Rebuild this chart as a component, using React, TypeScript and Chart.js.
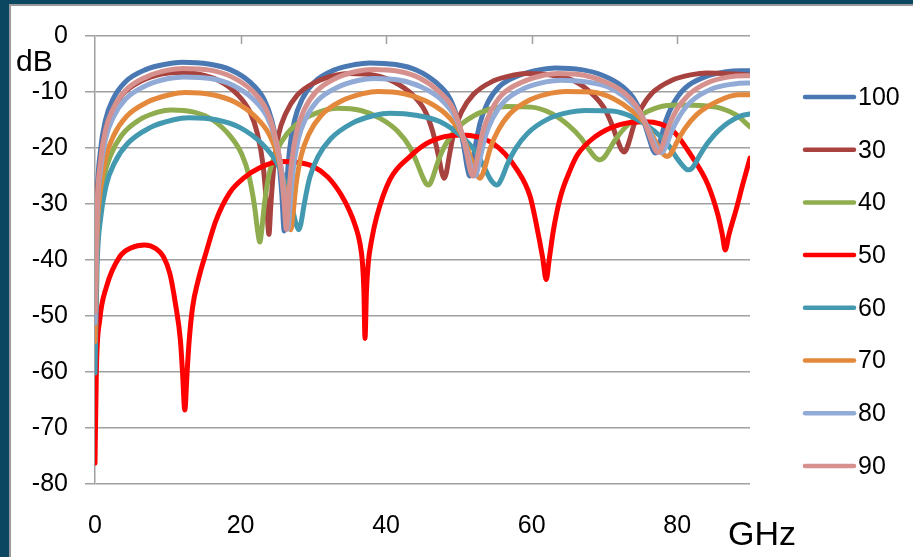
import React, { useEffect, useRef } from 'react';
import { Chart, registerables } from 'chart.js';

Chart.register(...registerables);

const FONT = '"Liberation Sans", Arial, Helvetica, sans-serif';

const seriesNames = ['100', '30', '40', '50', '60', '70', '80', '90'];
const seriesColors = ['#4A78B2', '#A8423F', '#8FAD4E', '#FF0000', '#4299B0', '#E4893B', '#91ABD6', '#D6918F'];
const xTicks = [0, 20, 40, 60, 80];
const yTicks = [0, -10, -20, -30, -40, -50, -60, -70, -80];
const xTitle = 'GHz';
const yTitle = 'dB';

// frequency (GHz) / level (dB) pairs
const f100 = [0, 0.27, 0.72, 1.44, 2.5, 4.16, 6.97, 9.91, 11.96, 15.6, 18.57, 21.27, 23.18, 24.27, 25.13, 25.67, 26.0,
  26.26, 26.7, 27.41, 28.46, 30.08, 32.83, 35.72, 37.73, 41.3, 44.21, 46.86, 48.74, 49.8, 50.65, 51.18, 51.5,
  51.76, 52.2, 52.91, 53.96, 55.58, 58.33, 61.22, 63.23, 66.8, 69.71, 72.36, 74.24, 75.3, 76.15, 76.68, 77.0,
  77.26, 77.7, 78.41, 79.46, 81.08, 83.83, 86.72, 88.73, 90];
const db100 = [-47, -29.3, -20.8, -15.0, -11.2, -8.2, -6.0, -5.0, -4.7, -5.0, -6.0, -8.2, -11.2, -15.0, -20.6, -28.2, -34.8,
  -28.3, -20.7, -15.1, -11.3, -8.3, -6.1, -5.1, -4.8, -5.1, -6.1, -8.3, -11.1, -14.7, -19.5, -23.7, -25.0,
  -23.9, -20.1, -15.5, -11.9, -9.0, -7.0, -6.0, -5.7, -6.0, -7.0, -8.9, -11.6, -14.8, -18.3, -20.4, -20.9,
  -20.5, -18.6, -15.2, -12.1, -9.3, -7.3, -6.4, -6.2, -6.2];

const f30 = [0, 0.25, 0.66, 1.32, 2.3, 3.82, 6.41, 9.11, 10.99, 14.34, 17.07, 19.55, 21.31, 22.31, 23.1, 23.6, 23.9,
  24.15, 24.57, 25.23, 26.22, 27.76, 30.36, 33.08, 34.99, 38.36, 41.11, 43.62, 45.39, 46.39, 47.2, 47.7, 48.0,
  48.25, 48.68, 49.36, 50.38, 51.95, 54.62, 57.41, 59.36, 62.82, 65.64, 68.21, 70.02, 71.05, 71.88, 72.39, 72.7,
  72.95, 73.38, 74.05, 75.06, 76.62, 79.27, 82.03, 83.97, 88.0, 90];
const db30 = [-52, -31.9, -23.4, -17.5, -13.6, -10.4, -8.0, -6.8, -6.5, -6.8, -8.0, -10.4, -13.6, -17.4, -23.1, -30.3, -35.4,
  -30.4, -23.3, -17.6, -13.8, -10.6, -8.2, -7.0, -6.7, -7.0, -8.2, -10.5, -13.5, -17.0, -21.4, -24.6, -25.4,
  -24.6, -21.4, -17.0, -13.5, -10.5, -8.1, -7.0, -6.7, -7.0, -7.9, -10.2, -13.0, -15.9, -18.9, -20.4, -20.7,
  -20.4, -18.9, -15.9, -12.9, -10.1, -7.9, -6.9, -6.6, -6.8, -7.0];

const f40 = [0, 0.23, 0.63, 1.25, 2.18, 3.62, 6.07, 8.63, 10.42, 13.59, 16.18, 18.53, 20.2, 21.14, 21.9, 22.37, 22.65,
  22.89, 23.29, 23.93, 24.88, 26.35, 28.85, 31.47, 33.3, 36.54, 39.19, 41.59, 43.29, 44.26, 45.03, 45.51, 45.8,
  46.04, 46.45, 47.1, 48.07, 49.58, 52.12, 54.79, 56.66, 59.96, 62.66, 65.11, 66.84, 67.83, 68.61, 69.1, 69.4,
  69.65, 70.07, 70.74, 71.73, 73.27, 75.89, 78.62, 80.53, 85.32, 88.09, 90];
const db40 = [-58, -39.7, -31.2, -25.2, -21.2, -17.8, -15.0, -13.6, -13.2, -13.6, -15.0, -17.8, -21.2, -24.9, -30.2, -35.0, -36.8,
  -34.9, -29.9, -24.6, -20.8, -17.5, -14.7, -13.3, -12.9, -13.3, -14.7, -17.0, -19.9, -22.7, -25.2, -26.4, -26.6,
  -26.4, -25.1, -22.5, -19.6, -16.7, -14.2, -12.9, -12.6, -12.7, -13.8, -16.0, -18.3, -20.2, -21.5, -22.0, -22.1,
  -22.0, -21.5, -20.1, -18.1, -15.8, -13.5, -12.4, -12.3, -12.7, -14.1, -16.2];

const f50 = [0, 0.19, 0.65, 1.57, 3.4, 5.0, 6.8, 8.4, 9.4, 10.3, 11.04, 11.74, 12.04, 12.34, 12.64, 12.94, 13.4, 14.2, 15.3, 16.6,
  18.5, 20.5, 22.5, 25.5, 28.0, 30.0, 32.0, 33.8, 35.0, 35.8, 36.4, 36.75, 36.95, 37.1, 37.3, 37.55, 38.0, 38.7, 40.5, 43.3,
  46.0, 50.2, 54.7, 58.0, 59.8, 60.7, 61.5, 62.0, 62.4, 63.0, 64.0, 65.3, 66.3, 68.7, 71.9, 75.6, 79.3, 82.0, 84.2, 85.6,
  86.2, 86.6, 87.1, 88.2, 89.0, 90];
const db50 = [-76.3, -59.6, -50.7, -44.8, -39.4, -37.8, -37.3, -38.0, -39.4, -42.5, -47.7, -54.4, -60.4, -66.8, -60.4, -54.4, -48.5, -43.5, -38.5, -33.0,
  -28.0, -25.3, -23.6, -22.4, -22.6, -23.3, -25.2, -28.3, -31.3, -34.0, -37.0, -40.5, -45.5, -54.0, -45.5, -40.5, -36.5, -32.3, -25.7, -21.5,
  -18.9, -17.7, -19.2, -23.9, -28.7, -34.0, -39.5, -43.5, -40.0, -34.6, -28.5, -23.9, -21.2, -18.0, -15.9, -15.3, -16.8, -21.5, -26.5, -32.0,
  -35.5, -38.2, -35.5, -30.5, -26.5, -21.8];

const f60 = [0, 0.29, 0.77, 1.55, 2.7, 4.48, 7.5, 10.67, 12.88, 16.8, 20.0, 22.91, 24.97, 26.13, 27.07, 27.65, 28.0,
  28.28, 28.75, 29.5, 30.62, 32.35, 35.29, 38.36, 40.51, 44.32, 47.43, 50.25, 52.25, 53.39, 54.29, 54.86, 55.2,
  55.47, 55.93, 56.66, 57.74, 59.42, 62.28, 65.26, 67.34, 71.04, 74.06, 76.8, 78.74, 79.84, 80.72, 81.27, 81.6,
  81.87, 82.33, 83.06, 84.14, 85.82, 88.68, 90];
const db60 = [-60.2, -41.1, -32.6, -26.6, -22.6, -19.2, -16.4, -15.0, -14.6, -15.0, -16.4, -19.2, -22.6, -26.0, -30.5, -33.7, -34.6,
  -33.6, -30.0, -25.3, -21.6, -18.4, -15.6, -14.2, -13.8, -14.2, -15.3, -17.8, -20.6, -23.2, -25.5, -26.4, -26.6,
  -26.4, -25.3, -22.9, -20.2, -17.4, -14.8, -13.6, -13.3, -13.4, -14.6, -16.9, -19.4, -21.6, -23.1, -23.8, -23.9,
  -23.8, -23.1, -21.4, -19.2, -16.7, -14.3, -13.9];

const f70 = [0, 0.28, 0.74, 1.48, 2.59, 4.3, 7.21, 10.25, 12.37, 16.14, 19.21, 22.01, 23.99, 25.11, 26.0, 26.56, 26.9,
  27.17, 27.62, 28.34, 29.4, 31.06, 33.87, 36.81, 38.86, 42.5, 45.47, 48.17, 50.08, 51.17, 52.03, 52.57, 52.9,
  53.16, 53.61, 54.32, 55.37, 57.01, 59.79, 62.69, 64.72, 68.32, 71.26, 73.93, 75.82, 76.89, 77.74, 78.28, 78.6,
  78.86, 79.31, 80.02, 81.07, 82.71, 85.49, 88.39, 90];
const db70 = [-54.6, -36.1, -27.6, -21.7, -17.7, -14.4, -11.8, -10.5, -10.1, -10.5, -11.8, -14.4, -17.7, -21.5, -26.8, -32.3, -34.6,
  -32.2, -26.6, -21.3, -17.5, -14.2, -11.6, -10.3, -9.9, -10.3, -11.6, -13.9, -16.9, -20.0, -23.3, -25.0, -25.4,
  -25.0, -23.3, -20.0, -16.9, -13.9, -11.4, -10.2, -9.9, -10.0, -11.2, -13.5, -16.0, -18.5, -20.5, -21.3, -21.5,
  -21.4, -20.6, -18.8, -16.5, -14.0, -11.7, -10.5, -10.5];

const f80 = [0, 0.27, 0.73, 1.46, 2.55, 4.24, 7.1, 10.1, 12.19, 15.9, 18.93, 21.68, 23.63, 24.73, 25.62, 26.17, 26.5,
  26.76, 27.21, 27.92, 28.97, 30.61, 33.39, 36.29, 38.32, 41.92, 44.86, 47.53, 49.42, 50.49, 51.34, 51.88, 52.2,
  52.46, 52.91, 53.61, 54.67, 56.3, 59.06, 61.95, 63.98, 67.56, 70.49, 73.15, 75.03, 76.09, 76.95, 77.48, 77.8,
  78.06, 78.51, 79.21, 80.27, 81.9, 84.66, 87.55, 89.58, 90];
const db80 = [-51.3, -32.7, -24.2, -18.3, -14.4, -11.2, -8.8, -7.6, -7.3, -7.6, -8.8, -11.2, -14.4, -18.2, -23.8, -30.5, -34.5,
  -30.7, -24.1, -18.5, -14.7, -11.5, -9.1, -7.9, -7.6, -7.9, -9.1, -11.3, -14.3, -17.7, -21.7, -24.4, -25.0,
  -24.4, -21.9, -18.0, -14.6, -11.6, -9.3, -8.2, -7.9, -8.2, -9.1, -11.3, -14.0, -16.7, -19.3, -20.6, -20.8,
  -20.6, -19.5, -17.1, -14.4, -11.7, -9.5, -8.6, -8.4, -8.4];

const f90 = [0, 0.27, 0.73, 1.45, 2.53, 4.21, 7.05, 10.02, 12.1, 15.78, 18.79, 21.52, 23.45, 24.55, 25.42, 25.97, 26.3,
  26.56, 27.01, 27.71, 28.77, 30.4, 33.16, 36.05, 38.08, 41.66, 44.59, 47.25, 49.13, 50.19, 51.05, 51.58, 51.9,
  52.16, 52.6, 53.31, 54.36, 55.98, 58.73, 61.62, 63.63, 67.2, 70.11, 72.76, 74.64, 75.7, 76.55, 77.08, 77.4,
  77.66, 78.1, 78.81, 79.86, 81.48, 84.23, 87.12, 89.13, 90];
const db90 = [-49.2, -31.2, -22.7, -16.8, -12.9, -9.7, -7.3, -6.1, -5.8, -6.1, -7.3, -9.7, -12.9, -16.8, -22.4, -29.5, -34.5,
  -29.7, -22.6, -17.0, -13.1, -9.9, -7.5, -6.3, -6.0, -6.3, -7.5, -9.9, -12.8, -16.4, -20.8, -24.1, -25.0,
  -24.2, -21.3, -17.0, -13.5, -10.4, -8.2, -7.0, -6.7, -7.0, -8.2, -10.2, -13.0, -16.0, -19.0, -20.5, -20.8,
  -20.5, -19.1, -16.2, -13.3, -10.6, -8.3, -7.3, -7.1, -7.1];

const seriesX = [f100, f30, f40, f50, f60, f70, f80, f90];
const seriesY = [db100, db30, db40, db50, db60, db70, db80, db90];

export default function App() {
  const canvasRef = useRef<HTMLCanvasElement | null>(null);

  useEffect(() => {
    const canvas = canvasRef.current;
    if (!canvas) return;

    const datasets = seriesNames.map((name, i) => ({
      label: name,
      data: seriesX[i].map((x, j) => ({ x, y: seriesY[i][j] })),
      borderColor: seriesColors[i],
      backgroundColor: seriesColors[i],
      borderWidth: 5,
      pointRadius: 0,
      pointHoverRadius: 0,
      fill: false,
      cubicInterpolationMode: 'monotone' as const,
      borderCapStyle: 'round' as const,
      borderJoinStyle: 'round' as const,
      order: seriesNames.length - 1 - i,
    }));

    const overlay = {
      id: 'overlay',
      afterDraw(chart: any) {
        const { ctx, chartArea, scales } = chart;
        const xs = scales.x;
        ctx.save();
        // tick marks hanging from the top (0 dB) axis line
        ctx.strokeStyle = '#a0a0a0';
        ctx.lineWidth = 1.5;
        xTicks.forEach((v) => {
          if (v === 0) return;
          const px = Math.round(xs.getPixelForValue(v)) + 0.5;
          ctx.beginPath();
          ctx.moveTo(px, chartArea.top);
          ctx.lineTo(px, chartArea.top + 8);
          ctx.stroke();
        });
        // axis titles
        ctx.fillStyle = '#000';
        ctx.textBaseline = 'alphabetic';
        ctx.textAlign = 'left';
        ctx.font = `30px ${FONT}`;
        ctx.fillText(yTitle, 16, 71);
        ctx.font = `34px ${FONT}`;
        ctx.fillText(xTitle, 728, 545);
        // legend
        ctx.font = `25px ${FONT}`;
        ctx.textBaseline = 'middle';
        seriesNames.forEach((name, i) => {
          const y = 97 + i * 52.7;
          ctx.strokeStyle = seriesColors[i];
          ctx.lineWidth = 4.5;
          ctx.lineCap = 'round';
          ctx.beginPath();
          ctx.moveTo(805, y);
          ctx.lineTo(854, y);
          ctx.stroke();
          ctx.fillStyle = '#000';
          ctx.fillText(name, 858, y + 1);
        });
        ctx.restore();
      },
    };

    const chart = new Chart(canvas, {
      type: 'line',
      data: { datasets: datasets as any },
      options: {
        animation: false,
        responsive: false,
        devicePixelRatio: 1,
        events: [],
        layout: { padding: { top: 36, right: 163, bottom: 0, left: 0 } },
        plugins: {
          legend: { display: false },
          tooltip: { enabled: false },
          title: { display: false },
        },
        scales: {
          x: {
            type: 'linear',
            min: 0,
            max: 90,
            afterBuildTicks: (scale: any) => {
              scale.ticks = xTicks.map((v) => ({ value: v }));
            },
            afterFit: (scale: any) => {
              scale.height = 73;
            },
            ticks: {
              color: '#000',
              font: { family: FONT, size: 25 },
              padding: 27,
              maxRotation: 0,
              autoSkip: false,
            },
            grid: { display: false, drawTicks: false },
            border: { display: false },
          },
          y: {
            type: 'linear',
            min: -80,
            max: 0,
            afterBuildTicks: (scale: any) => {
              scale.ticks = yTicks.map((v) => ({ value: v }));
            },
            afterFit: (scale: any) => {
              scale.width = 95;
            },
            ticks: {
              color: '#000',
              font: { family: FONT, size: 25 },
              padding: 17,
              autoSkip: false,
            },
            grid: { color: '#a0a0a0', lineWidth: 1.5, tickLength: 10, drawTicks: true },
            border: { display: true, color: '#a0a0a0', width: 1.5 },
          },
        },
      },
      plugins: [overlay],
    });

    return () => {
      chart.destroy();
    };
  }, []);

  return (
    <div
      style={{
        position: 'fixed',
        left: 0,
        top: 0,
        width: 913,
        height: 557,
        background: '#0c4762',
        overflow: 'hidden',
      }}
    >
      <div
        style={{
          position: 'absolute',
          left: 9,
          top: 4,
          right: 0,
          bottom: 0,
          background: '#ffffff',
          borderLeft: '2px solid #9a9a9a',
          borderTop: '2px solid #9a9a9a',
        }}
      />
      <canvas
        ref={canvasRef}
        width={913}
        height={557}
        style={{ position: 'absolute', left: 0, top: 0, width: 913, height: 557 }}
      />
    </div>
  );
}
